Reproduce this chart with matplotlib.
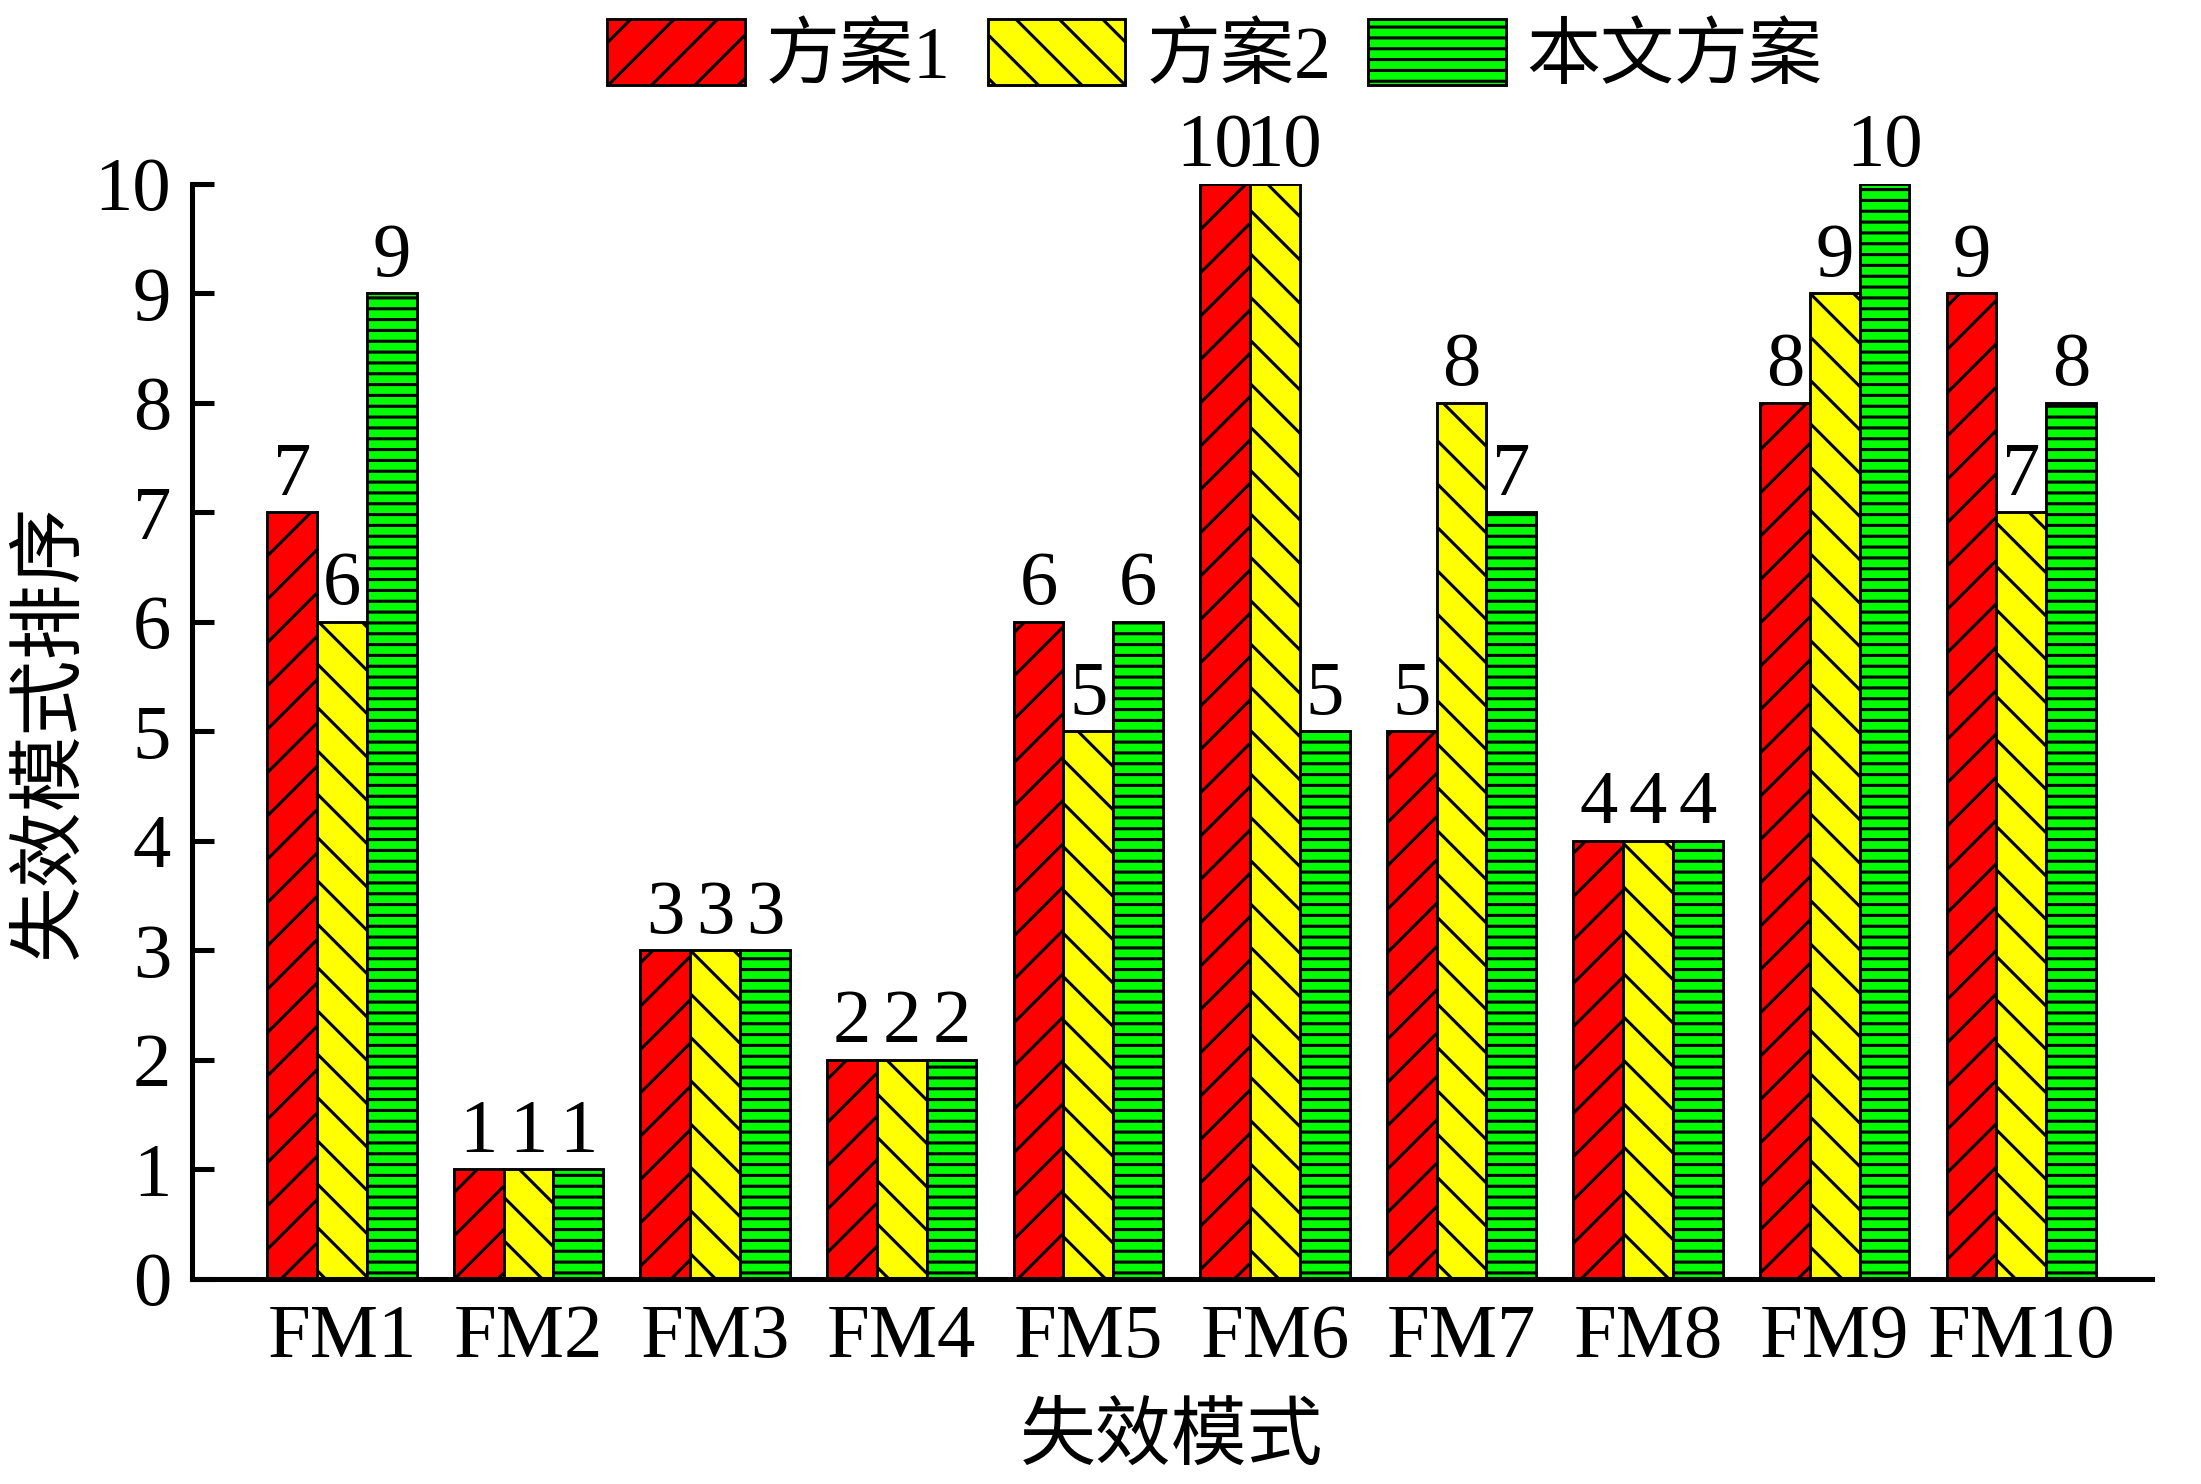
import matplotlib
matplotlib.use("Agg")
import matplotlib.pyplot as plt
import numpy as np

categories = ["FM1", "FM2", "FM3", "FM4", "FM5", "FM6", "FM7", "FM8", "FM9", "FM10"]
series_names = ["方案1", "方案2", "本文方案"]
scheme1 = [7, 1, 3, 2, 6, 10, 5, 4, 8, 9]
scheme2 = [6, 1, 3, 2, 5, 10, 8, 4, 9, 7]
ours = [9, 1, 3, 2, 6, 5, 7, 4, 10, 8]
yticks = list(range(0, 11))

colors = ["#FF0000", "#FFFF00", "#00FF00"]
hatches = ["/", "\\", "--"]

DPI = 130
plt.rcParams["hatch.linewidth"] = 1.7
fam = ["Liberation Serif", "Noto Sans CJK SC"]
plt.rcParams["font.family"] = fam

fig = plt.figure(figsize=(2201 / DPI, 1484 / DPI), dpi=DPI)
ax = fig.add_axes([0.0872, 0.1382, 0.8905, 0.7379])

x = np.arange(len(categories))
w = 0.2667
data = [scheme1, scheme2, ours]
handles = []
for i, (vals, name) in enumerate(zip(data, series_names)):
    pos = x + (i - 1) * w
    bars = ax.bar(pos, vals, width=w, color=colors[i], edgecolor="black",
                  linewidth=1.6, hatch=hatches[i], label=name, zorder=2)
    handles.append(bars)
    for j, (px, v) in enumerate(zip(pos, vals)):
        dx = 0
        # nudge adjacent equal two-digit labels apart so they don't collide
        if v >= 10:
            if i == 0 and scheme2[j] >= 10:
                dx = -6
            elif i == 1 and scheme1[j] >= 10:
                dx = 5
        ax.annotate(str(v), (px, v), xytext=(dx, 1), textcoords="offset points",
                    ha="center", va="bottom", fontsize=42.5,
                    family="Liberation Serif")

ax.set_xlim(-0.804, 9.70)
ax.set_ylim(0, 10)
ax.set_yticks(yticks)
ax.set_xticks(x)
ax.set_xticklabels(categories)
for s in ["top", "right"]:
    ax.spines[s].set_visible(False)
for s in ["left", "bottom"]:
    ax.spines[s].set_linewidth(2.8)
ax.tick_params(axis="y", direction="in", length=12, width=2.8, pad=11.5,
               labelsize=42.5)
ax.tick_params(axis="x", length=0, pad=14, labelsize=42.5)

ax.set_xlabel("失效模式", fontsize=42, family=["Noto Sans CJK SC"], labelpad=14)
ax.set_ylabel("失效模式排序", fontsize=42, family=["Noto Sans CJK SC"], labelpad=4)

leg = fig.legend(handles=handles, labels=series_names, loc="center",
                 bbox_to_anchor=(0.552, 0.962), ncol=3, frameon=False,
                 fontsize=41, handlelength=1.86, handleheight=0.99,
                 handletextpad=0.28, columnspacing=0.5)

fig.savefig("out.png", dpi=DPI)
